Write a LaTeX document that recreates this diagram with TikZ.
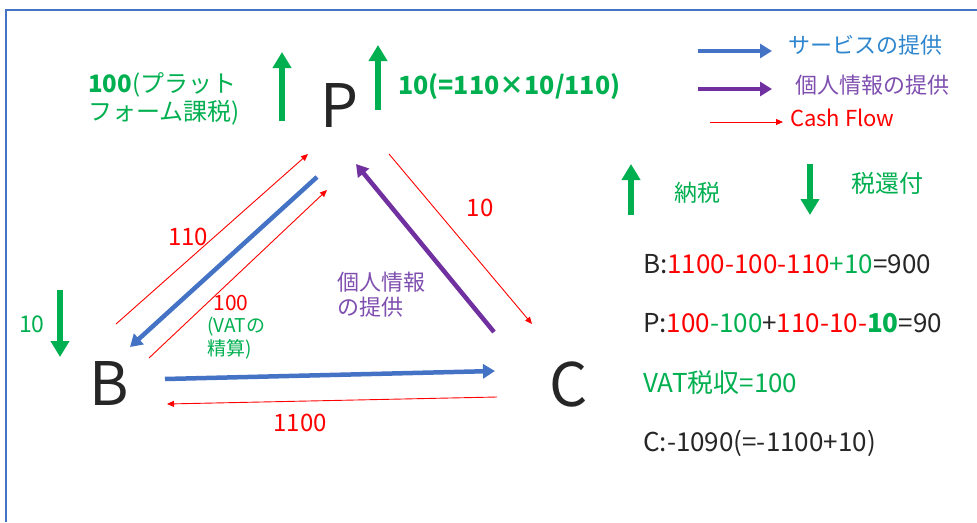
\documentclass[tikz,border=0pt]{standalone}
\usepackage{fontspec}
\setmainfont{Noto Sans CJK JP}
\usetikzlibrary{arrows.meta}
\definecolor{gr}{HTML}{00B050}
\definecolor{rd}{HTML}{FF0000}
\definecolor{bl}{HTML}{4472C4}
\definecolor{pu}{HTML}{7030A0}
\definecolor{blt}{HTML}{2E86CE}
\definecolor{put}{HTML}{7F4FB0}
\definecolor{tx}{HTML}{262626}
\newcommand{\fs}[1]{\fontsize{#1}{#1}\selectfont}
\begin{document}
\begin{tikzpicture}[x=1pt,y=-1pt,
  big/.style={font=\fs{60}, text=tx, inner sep=0pt},
  lbl/.style={inner sep=0pt},
  thickblue/.style={bl, line width=4.5pt, -{Triangle[length=12pt,width=14pt]}},
  thickpurple/.style={pu, line width=4.5pt, -{Triangle[length=12pt,width=14pt]}},
  cash/.style={rd, line width=0.9pt, -{Triangle[length=7pt,width=6pt]}},
  taxarr/.style={gr, line width=6pt, -{Triangle[length=16pt,width=18pt]}}
]
\useasboundingbox (0,0) rectangle (977,522);
\fill[white] (0,0) rectangle (977,522);
\draw[bl, line width=2pt] (977,10) -- (6,10) -- (6,522);

% main nodes
\node[big] (P) at (339,106) {P};
\node[big] (B) at (109,384) {B};
\node[big] (C) at (569,385) {C};

% connector end points
\coordinate (r1s) at (116,324); \coordinate (r1e) at (308,154);
\coordinate (b1s) at (317,177); \coordinate (b1e) at (130,347);
\coordinate (r2s) at (149,358); \coordinate (r2e) at (327,190);
\coordinate (p1s) at (494,332); \coordinate (p1e) at (356,164);
\coordinate (r3s) at (389,154); \coordinate (r3e) at (532,324);
\coordinate (b2s) at (165,379); \coordinate (b2e) at (495,371);
\coordinate (r4s) at (497,397); \coordinate (r4e) at (167,404);

\draw[cash] (r1s) -- (r1e);
\draw[thickblue] (b1s) -- (b1e);
\draw[cash] (r2s) -- (r2e);
\draw[thickpurple] (p1s) -- (p1e);
\draw[cash] (r3s) -- (r3e);
\draw[thickblue] (b2s) -- (b2e);
\draw[cash] (r4s) -- (r4e);

% edge labels
\node[lbl, text=rd, font=\fs{24}] (l110) at (188,237) {110};
\node[lbl, text=rd, font=\fs{21}] (l100) at (231,303) {100};
\node[lbl, text=gr, font=\fs{19}, anchor=west] (lvat1) at (207,327) {(VATの};
\node[lbl, text=gr, font=\fs{19}, anchor=west] (lvat2) at (207,349) {精算)};
\node[lbl, text=rd, font=\fs{24}] (l10) at (480,208) {10};
\node[lbl, text=rd, font=\fs{24}] (l1100) at (300,423) {1100};
\node[lbl, text=put, font=\fs{22}, anchor=west] (lpi1) at (337,282) {個人情報};
\node[lbl, text=put, font=\fs{22}, anchor=west] (lpi2) at (337,307) {の提供};

% tax arrows
\coordinate (t1s) at (282,121); \coordinate (t1e) at (282,52);
\coordinate (t2s) at (378,110); \coordinate (t2e) at (378,45);
\coordinate (t3s) at (60,290);  \coordinate (t3e) at (60,357);
\draw[taxarr] (t1s) -- (t1e);
\draw[taxarr] (t2s) -- (t2e);
\draw[taxarr] (t3s) -- (t3e);
\node[lbl, text=gr, font=\fs{24}, anchor=west] (ptax1) at (88,85) {\textbf{100}(プラット};
\node[lbl, text=gr, font=\fs{24}, anchor=west] (ptax2) at (88,113) {フォーム課税)};
\node[lbl, text=gr, font=\fs{25}, anchor=west] (ptax3) at (398,87) {\textbf{10(=110×10/110)}};
\node[lbl, text=gr, font=\fs{23}] (btax) at (32,324) {10};

% legend
\coordinate (g1s) at (698,51); \coordinate (g1e) at (772,51);
\coordinate (g2s) at (698,89); \coordinate (g2e) at (772,89);
\coordinate (g3s) at (710,122); \coordinate (g3e) at (783,122);
\draw[thickblue] (g1s) -- (g1e);
\draw[thickpurple] (g2s) -- (g2e);
\draw[cash] (g3s) -- (g3e);
\node[lbl, text=blt, font=\fs{22}, anchor=west] (lg1) at (788,45) {サービスの提供};
\node[lbl, text=put, font=\fs{22}, anchor=west] (lg2) at (795,85) {個人情報の提供};
\node[lbl, text=rd, font=\fs{22}, anchor=west] (lg3) at (790,118) {Cash Flow};

\coordinate (g4s) at (631,215); \coordinate (g4e) at (631,164);
\coordinate (g5s) at (810,164); \coordinate (g5e) at (810,215);
\draw[taxarr] (g4s) -- (g4e);
\draw[taxarr] (g5s) -- (g5e);
\node[lbl, text=gr, font=\fs{23}] (lg4) at (697,193) {納税};
\node[lbl, text=gr, font=\fs{24}] (lg5) at (887,183) {税還付};

% balances
\node[lbl, text=tx, font=\fs{26}, anchor=base west] (sb) at (643,273) {B:\textcolor{rd}{1100-100-110}\textcolor{gr}{+10}=900};
\node[lbl, text=tx, font=\fs{26}, anchor=base west] (sp) at (643,332) {P:\textcolor{rd}{100}\textcolor{gr}{-100}+\textcolor{rd}{110-10-}\textcolor{gr}{\textbf{10}}=90};
\node[lbl, text=gr, font=\fs{26}, anchor=base west] (sv) at (643,392) {VAT税収=100};
\node[lbl, text=tx, font=\fs{26}, anchor=base west] (sc) at (643,451) {C:-1090(=-1100+10)};
\end{tikzpicture}
\end{document}
